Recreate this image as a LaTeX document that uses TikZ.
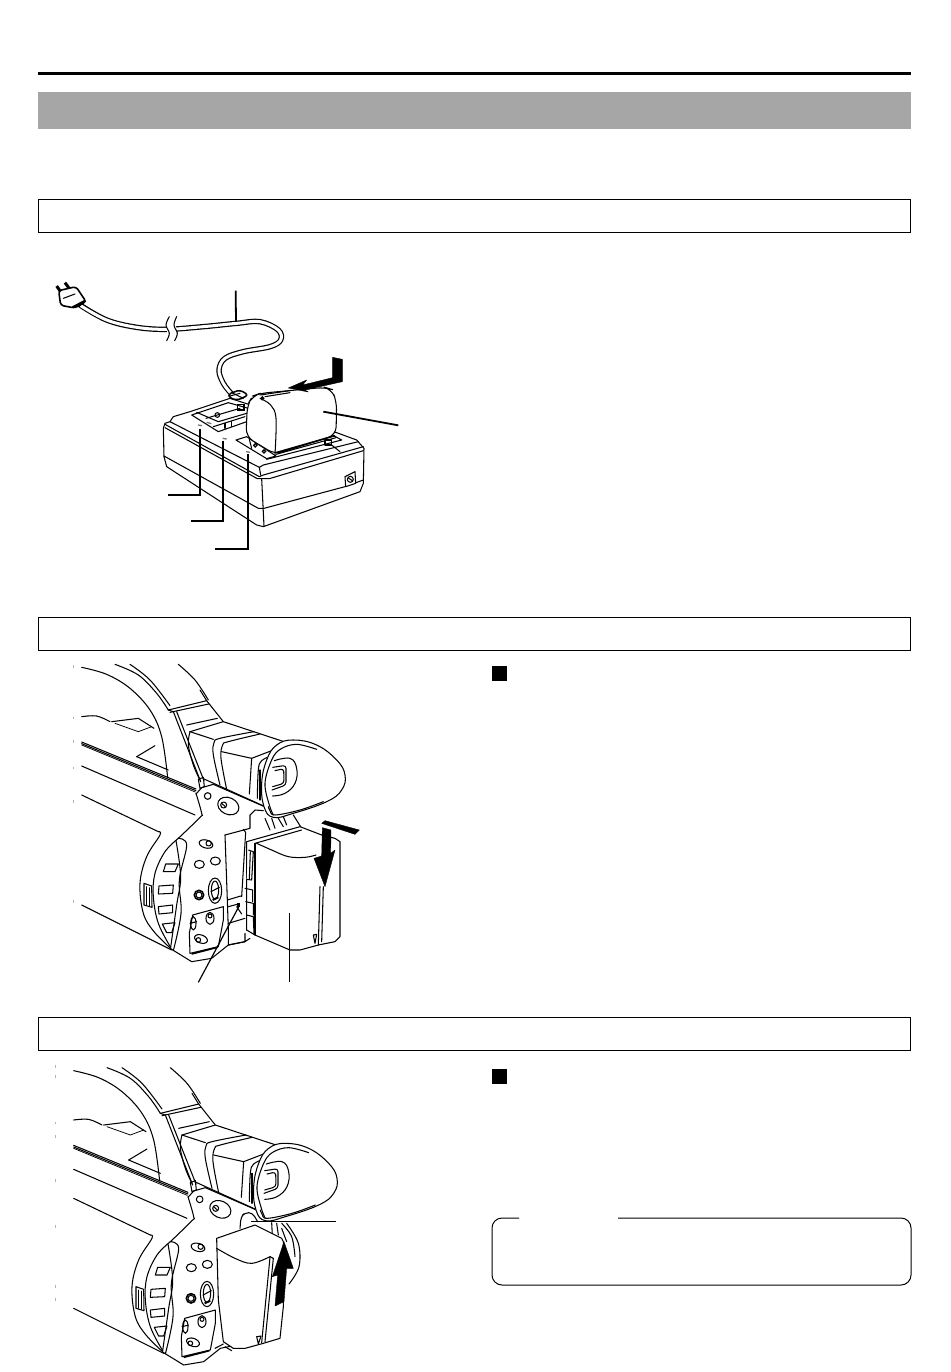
\documentclass[tikz,border=0pt]{standalone}
\tikzset{
 ln/.style={line width=1.05pt,line join=round,line cap=round,black},
 thin ln/.style={line width=0.75pt,line join=round,line cap=round,black},
 lead/.style={line width=1.8pt,black},
 leadthin/.style={line width=1.2pt,black},
 sect/.style={draw=black,line width=0.8pt,fill=white},
 blk/.style={fill=black,draw=black,line width=0.4pt,line join=round},
 mask/.style={fill=white,draw=black,line width=1.05pt,line join=round},
 sm/.style={smooth,tension=0.6},
 tick/.style={line width=0.5pt,black!30}
}
\newcommand{\camerabase}{%
 % strap and top deck
 \draw[ln] plot[sm] coordinates {(65,37)(140,58)(210,100)(270,165)(305,245)(323,368)};
 \draw[ln] plot[sm] coordinates {(165,28)(235,60)(290,115)(325,165)};
 \draw[ln] plot[sm] coordinates {(210,28)(270,75)(330,152)};
 \draw[ln] plot[sm] coordinates {(355,28)(405,75)(445,135)};
 \draw[ln] plot[sm] coordinates {(65,185)(110,183)(150,200)};
 \draw[ln] (155,200) -- (235,190) -- (282,220);
 \draw[thin ln] (165,205) -- (235,230) -- (275,215);
 \draw[ln] (230,305) -- (285,272);
 \draw[ln] (230,305) -- (325,345);
 % body lines
 \draw[ln] (65,261) -- (408,402);
 \draw[ln] (65,266) -- (408,407);
 \draw[thin ln] (65,270) -- (406,411);
 \draw[ln] (65,333) -- (405,480);
 \draw[ln] (65,420) -- (295,530);
 \draw[ln] (65,750) -- (335,885);
 \begin{scope}[shift={(300,105)}]
  % handle cap and strip
  \draw[ln] (25,60) -- (140,32) -- (120,0);
  \draw[ln] (140,32) -- (190,95);
  \draw[ln] (30,67) -- (146,42);
  \draw[ln] (80,105) -- (172,85);
  \draw[ln] (25,60) -- (40,65) -- (122,275);
  \draw[ln] (50,65) -- (132,272);
  \draw[ln] (115,268) -- (130,262) -- (133,290) -- (120,295) -- cycle;
  % viewfinder
  \draw[ln] (90,125) -- (190,95) -- (372,155);
  \draw[ln] plot[sm] coordinates {(90,125)(85,165)(100,225)(120,270)};
  \draw[ln] (90,125) -- (160,148);
  \draw[ln] plot[sm] coordinates {(180,285)(160,195)(162,158)(180,145)(282,125)};
  \draw[ln] plot[sm] coordinates {(200,298)(183,205)(188,165)(205,155)(300,132)};
  \draw[ln] (185,185) -- (275,205) -- (340,180);
  \draw[ln] (275,205) -- (268,312);
  \draw[ln] plot[sm] coordinates {(292,325)(295,240)(305,212)(340,195)};
  \draw[ln] (300,240) -- (300,330);
  \draw[ln] (130,266) -- (320,352);
  % slider plate
  \draw[ln] (108,312) -- (125,293) -- (160,283) -- (325,355);
  \draw[ln] (143,318) circle[radius=10];
  \draw[ln,rotate around={-25:(205,348)}] (205,348) ellipse[x radius=33,y radius=25];
  \draw[ln] (191,345) circle[radius=9];
  \draw[ln] (185,340) -- (196,350);
  % eyecup
  \draw[mask] plot[smooth cycle,tension=0.7] coordinates {(312,350)(305,280)(320,210)(350,165)(400,150)(470,165)(530,210)(555,255)(545,300)(500,335)(400,370)(340,382)};
  \draw[ln] plot[sm] coordinates {(340,375)(328,345)(315,280)(335,210)(362,177)(410,163)(470,178)};
  \draw[ln] plot[sm] coordinates {(325,350)(330,362)(345,375)(420,360)(490,335)};
  \draw[ln] plot[smooth,tension=0.7] coordinates {(343,212)(390,205)(410,235)(405,280)(375,310)(338,318)};
  \draw[ln,rounded corners=3pt] (338,232) -- (378,226) -- (378,285) -- (336,300);
  \draw[ln,rounded corners=3pt] (345,242) -- (371,236) -- (372,280) -- (338,290);
 \end{scope}
 \begin{scope}[shift={(210,405)}]
  % panel edges and grip
  \draw[ln] plot[sm] coordinates {(198,10)(215,70)(210,82)(145,145)};
  \draw[ln] plot[sm] coordinates {(85,125)(90,135)(50,200)(30,280)(40,370)(72,425)(125,478)};
  \draw[ln] plot[sm] coordinates {(145,145)(105,185)(75,250)(70,320)(85,400)(122,472)};
  \draw[ln] plot[sm] coordinates {(138,152)(152,260)(140,345)(122,472)};
  \draw[ln] plot[sm] coordinates {(145,145)(170,165)(148,270)(153,370)(130,482)};
  \draw[ln] (125,478) -- (185,515) -- (245,505) -- (295,465) -- (345,455);
  % slots
  \draw[ln] (107,222) -- (145,222) -- (135,245) -- (100,245) -- cycle;
  \draw[ln] (87,288) -- (130,285) -- (128,310) -- (85,312) -- cycle;
  \draw[ln] (85,350) -- (128,345) -- (128,368) -- (87,372) -- cycle;
  \draw[ln] (97,402) -- (135,398) -- (125,428) -- (110,428) -- cycle;
  \draw[mask] (42,280) -- (65,288) -- (66,352) -- (42,345) -- cycle;
  \draw[thin ln] (50,290) -- (50,345);
  \draw[thin ln] (58,293) -- (58,348);
  % controls
  \draw[ln,rotate around={-15:(228,162)}] (228,162) ellipse[x radius=21,y radius=12];
  \draw[ln] (236,160) circle[radius=8];
  \draw[ln] (208,223) ellipse[x radius=15,y radius=12];
  \draw[ln] (256,213) ellipse[x radius=15,y radius=12];
  \draw[line width=1.6pt] (207,315) circle[radius=14];
  \draw[ln] (207,315) circle[radius=9];
  \draw[ln] (255,302) ellipse[x radius=20,y radius=38];
  \draw[ln] (255,300) ellipse[x radius=11,y radius=27];
  \draw[ln] (243,305) -- (268,292);
  \draw[line width=2pt] (248,330) -- (265,322);
  \draw[ln] (188,375) -- (280,350) -- (280,390) -- (265,470) -- (180,490) -- (178,430) -- cycle;
  \draw[ln] (240,385) ellipse[x radius=12,y radius=18];
  \draw[ln] (240,378) circle[radius=6];
  \draw[ln,rotate around={-20:(213,447)}] (213,447) ellipse[x radius=20,y radius=12];
  \draw[ln] (205,450) circle[radius=7];
  \draw[ln] (190,400) ellipse[x radius=8,y radius=20];
  \draw[ln] (180,400) -- (200,395);
  \draw[line width=1.6pt] (185,492) -- (262,472);
 \end{scope}
}
\begin{document}
\begin{tikzpicture}[x=1pt,y=-1pt]
\useasboundingbox (0,0) rectangle (950,1372);
\fill[white] (0,0) rectangle (950,1372);
% page furniture
\fill[black] (38,72) rectangle (911,75);
\fill[black!35] (38,92) rectangle (911,129);
\draw[sect] (38.5,199.5) rectangle (910.5,232.5);
\draw[sect] (38.5,617.5) rectangle (910.5,650.5);
\draw[sect] (38.5,1017.5) rectangle (910.5,1050.5);
\fill[black] (492,665.5) rectangle (507,680.5);
\fill[black] (492,1069) rectangle (507,1084);
\draw[line width=1pt,rounded corners=10pt] (519,1218) -- (492,1218) -- (492,1285) -- (911,1285) -- (911,1218) -- (618,1218);

% ------ charger
\begin{scope}[shift={(30,270)},x=0.33333pt,y=-0.33333pt]
 % cord
 \draw[line width=5.4pt,line cap=butt] plot[sm] coordinates {(150,105)(230,150)(320,172)(410,178)(520,170)(620,160)(690,155)(745,180)(752,210)(720,230)(640,245)(585,265)(567,300)(580,340)(605,372)};
 \draw[line width=3pt,white] plot[sm] coordinates {(152,107)(230,150)(320,172)(410,178)(520,170)(620,160)(690,155)(745,180)(752,210)(720,230)(640,245)(585,265)(567,300)(580,340)(603,370)};
 % plug
 \draw[line width=3pt] (80,48) -- (98,74);
 \draw[line width=3pt] (105,38) -- (124,64);
 \draw[mask,line width=1.6pt,rounded corners=3pt] (86,62) -- (138,50) -- (168,95) -- (135,114) -- (92,106) -- cycle;
 \draw[line width=2.4pt] (128,112) -- (167,92);
 \draw[ln] (100,85) -- (135,72);
 % break
 \fill[white] (412,145) rectangle (438,215);
 \draw[ln] plot[sm] coordinates {(418,140)(408,165)(418,190)(410,212)};
 \draw[ln] plot[sm] coordinates {(440,140)(432,165)(442,190)(434,212)};
 \begin{scope}[shift={(360,330)}]
  % charger body
  \draw[mask] (60,125) -- (70,110) -- (120,95) -- (240,55) -- (560,158) -- (620,180) -- (642,205) -- (640,310) -- (630,335) -- (340,440) -- (320,435) -- (50,260) -- (42,230) -- (40,145) -- (45,130) -- cycle;
  \draw[ln] (60,125) -- (328,262) -- (340,255) -- (625,185);
  \draw[ln] (45,133) -- (328,290) -- (340,285) -- (640,200);
  \draw[ln] (328,262) -- (332,285);
  \draw[ln] (45,143) -- (322,296) -- (358,296) -- (640,212);
  \draw[ln] (42,228) -- (325,385) -- (342,385) -- (585,320);
  \draw[ln] (618,308) -- (640,300);
  \draw[ln] (335,296) -- (342,438);
  \draw[ln] (585,290) -- (615,275) -- (617,310) -- (587,320) -- cycle;
  \draw[ln] (601,298) circle[radius=9];
  \draw[ln] (595,294) -- (607,302);
  % deck plate
  \draw[ln] (125,105) -- (235,68) -- (295,85) -- (290,125) -- (205,155) -- cycle;
  \draw[ln] (140,97) -- (205,125) -- (290,100);
  \draw[ln] (168,115) -- (270,85);
  \draw[ln] (190,140) -- (285,110);
  \draw[ln] (202,105) circle[radius=7];
  \draw[ln] (225,130) -- (225,145);
  \draw[ln] (245,125) -- (245,140);
  \draw[line width=1.4pt] (262,73) rectangle (282,90);
  % terminal plate
  \draw[ln] (258,180) -- (290,170) -- (378,228) -- (350,236) -- cycle;
  \draw[ln] (298,178) -- (305,205);
  \draw[line width=1.2pt] (316,196) circle[radius=5];
  \draw[line width=1.2pt] (342,214) circle[radius=5];
  \draw[ln] (350,238) -- (575,180) -- (548,165);
  \draw[ln] (545,195) -- (570,215);
  \draw[ln] (525,180) rectangle (545,195);
  % small lamps
  \draw[black!55,line width=1.3pt] (144,135) -- (156,137);
  \draw[black!55,line width=1.3pt] (218,175) -- (230,177);
  \draw[black!55,line width=1.3pt] (288,215) -- (300,217);
  \draw[black!55,line width=1.3pt] (170,127) -- (184,131);
 \end{scope}
 % cord strain relief
 \draw[mask,rounded corners=3pt,line width=1.5pt] (595,372) -- (630,360) -- (655,375) -- (625,390) -- (600,385) -- cycle;
 \draw[ln] (605,368) -- (640,385);
 \draw[ln] (600,378) -- (630,370);
 % battery
 \draw[mask,rounded corners=8pt] (648,500) -- (652,405) -- (668,378) -- (690,370) -- (885,352) -- (905,358) -- (920,395) -- (918,495) -- (735,553) -- cycle;
 \draw[ln] plot[sm] coordinates {(690,385)(722,405)(738,445)(735,553)};
 \draw[ln] (690,375) -- (780,362);
 \draw[ln] (705,380) -- (780,368);
 \draw[line width=1.4pt] (697,385) circle[radius=4];
 \draw[line width=1.4pt] (697,374) -- (707,372);
 \draw[line width=1.6pt,dash pattern=on 1.2pt off 0.3pt] (738,548) -- (915,497);
 \draw[ln] (738,553) -- (918,503);
 % arrow
 \draw[blk] (775,354) -- (830,330) -- (818,345) -- (908,323) -- (908,262) -- (937,268) -- (937,335) -- (825,360) -- (835,366) -- cycle;
 % leaders
 \draw[lead] (617,62) -- (618,155);
 \draw[lead] (880,425) -- (1105,466);
 \draw[lead] (510,478) -- (510,675) -- (413,675);
 \draw[lead] (580,512) -- (580,753) -- (482,753);
 \draw[lead] (655,553) -- (655,838) -- (555,838);
\end{scope}

% ------ camera with battery going in
\begin{scope}[shift={(60,655)},x=0.33333pt,y=-0.33333pt]
 \foreach \yy in {30,185,255,335,435,735} \draw[tick] (40,\yy) -- (40,\yy+8);
 \camerabase
 \begin{scope}[shift={(210,405)}]
  % compartment
  \draw[ln] (285,135) -- (292,330) -- (295,420) -- (295,465);
  \draw[ln] (285,135) -- (360,115) -- (360,75) -- (375,60) -- (400,62);
  \draw[ln] (340,118) -- (347,127) -- (335,320);
  \draw[ln] (292,330) -- (332,318);
  \draw[ln] (295,350) -- (325,342);
  \draw[ln] (295,400) -- (345,385);
  \draw[ln] (295,465) -- (345,455);
  \draw[ln] (320,350) -- (335,372);
  \fill[black] (322,340) rectangle (330,350);
  \draw[ln] (345,430) -- (345,455) -- (360,445);
 \end{scope}
 \begin{scope}[shift={(510,435)}]
  % contacts above the battery
  \draw[ln] (105,55) -- (120,90);
  \draw[ln] (125,55) -- (135,85);
  \draw[ln] (145,55) -- (160,80);
  \draw[ln] (160,50) -- (170,75);
  \draw[ln] (190,45) -- (215,85);
  % battery
  \draw[mask] (50,125) -- (210,80) -- (275,105) -- (315,115) -- (330,125) -- (330,410) -- (315,425) -- (265,435) -- (210,450) -- (180,450) -- (75,405) -- (50,390) -- cycle;
  \draw[ln] (75,130) -- (215,90);
  \draw[ln] (75,130) -- (75,405);
  \draw[ln] plot[sm] coordinates {(80,130)(125,150)(175,170)(225,172)(258,165)};
  \draw[ln] (270,260) -- (265,435);
  \draw[ln] (280,260) -- (275,425);
  \draw[ln] (250,405) -- (260,403) -- (255,430) -- cycle;
  \draw[mask] (55,150) -- (70,155) -- (65,240) -- (50,238);
  \draw[ln] (61,155) -- (58,238);
  \draw[ln] (45,265) -- (68,270) -- (68,305);
  \draw[ln] (47,305) -- (70,310) -- (70,345);
  \draw[ln] (50,345) -- (70,350) -- (72,402);
  \draw[ln] (50,345) -- (50,390);
  % arrow
  \draw[blk] (275,70) -- (285,62) -- (388,90) -- (375,103) -- cycle;
  \draw[blk] (277,83) -- (303,90) -- (302,160) -- (315,150) -- (285,260) -- (252,175) -- (275,168) -- cycle;
 \end{scope}
 % leaders
 \draw[leadthin] (688,775) -- (688,982);
 \draw[leadthin] (538,752) -- (415,982);
\end{scope}

% ------ camera with battery coming out
\begin{scope}[shift={(50,1055)},x=0.33333pt,y=-0.33333pt]
 \foreach \yy in {30,60,200,240,372,510,690,730} \draw[tick] (17,\yy) -- (17,\yy+8);
 \begin{scope}[shift={(6,10)}]
 \camerabase
 \end{scope}
 \begin{scope}[shift={(495,435)}]
  % latch and back of compartment
  \draw[ln,rounded corners=4pt] (75,85) -- (78,50) -- (90,38) -- (112,38) -- (128,65);
  \draw[ln] plot[sm] coordinates {(215,70)(250,130)(252,200)(222,252)};
  \draw[ln] plot[sm] coordinates {(200,70)(230,110)(240,170)};
  \draw[ln] (170,68) -- (172,105);
  \draw[ln] (185,70) -- (190,105);
  \draw[ln] (200,85) -- (215,125);
  % battery
  \draw[mask] (5,115) -- (120,75) -- (200,115) -- (205,125) -- (205,320) -- (195,415) -- (145,430) -- (90,445) -- (55,445) -- (25,425) -- (10,300) -- cycle;
  \draw[ln] plot[sm] coordinates {(5,145)(60,175)(110,190)(165,170)};
  \draw[ln] (165,170) -- (175,175) -- (150,425);
  \draw[ln] (165,172) -- (140,428);
  \draw[ln] (125,410) -- (138,408) -- (130,432) -- cycle;
  \draw[ln] (0,445) -- (25,432);
  \draw[ln] (30,440) -- (50,452);
  % arrow
  \draw[blk] (207,125) -- (235,205) -- (215,205) -- (207,305) -- (180,318) -- (188,225) -- (172,230) -- cycle;
  % leader
  \draw[leadthin] (108,65) -- (362,65);
 \end{scope}
\end{scope}
\end{tikzpicture}
\end{document}
